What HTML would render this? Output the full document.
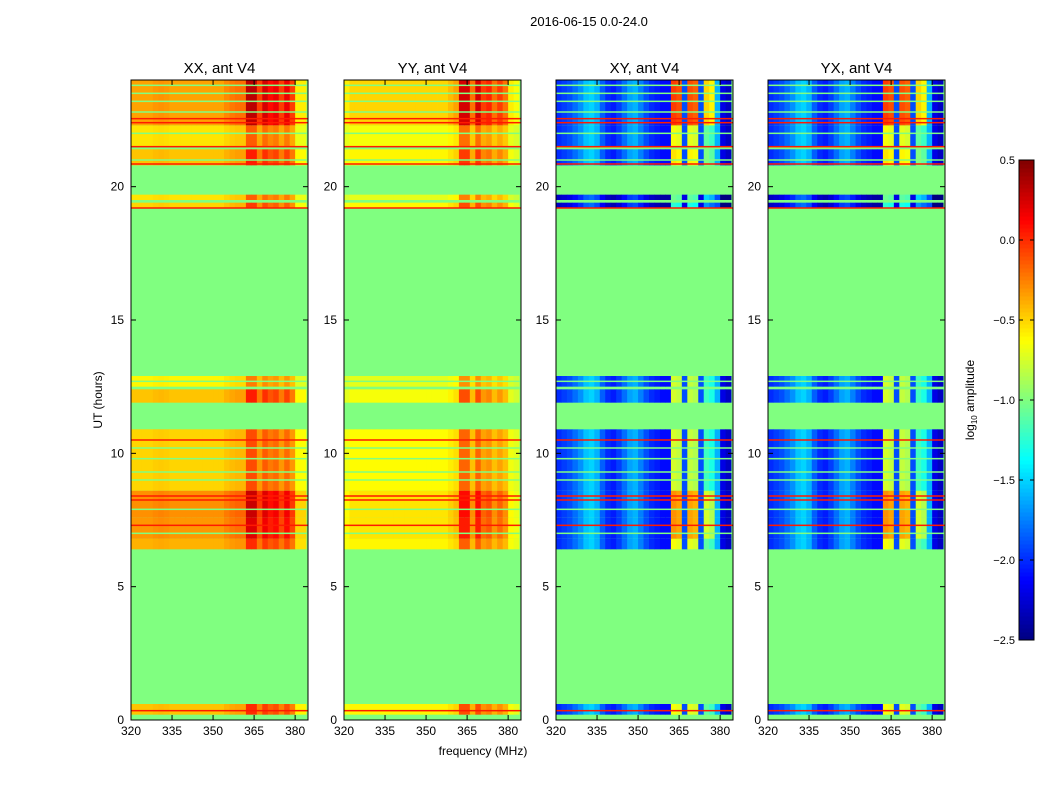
<!DOCTYPE html>
<html><head><meta charset="utf-8"><style>
body{margin:0;background:#fff;width:1050px;height:800px;overflow:hidden}
svg{display:block;font-family:"Liberation Sans","DejaVu Sans",sans-serif}
</style></head><body>
<svg id="chart" width="1050" height="800"></svg>
<script>
// ---- data ----
const panelTitles=["XX, ant V4","YY, ant V4","XY, ant V4","YX, ant V4"];
const freqCenters=[321,323,325,327,329,331,333,335,337,339,341,343,345,347,349,351,353,355,357,359,361,363,365,367,369,371,373,375,377,379,381,383];
const xxSpec=[0,0,0,0,0.02,0.03,0.02,0,0,0,0,0,0,0,0,0,0,0.05,0.08,0.1,0.1,0.45,0.45,0.2,0.4,0.3,0.35,0.2,0.35,0.2,-0.15,-0.15];
const yySpec=[-0.05,0,0,0,0,0,0,0,0,0,0,0,0,0,0,0,0,0,0,0.05,0.1,0.5,0.5,0.2,0.5,0.3,0.35,0.2,0.3,0.2,-0.05,-0.1];
const xySpec=[-2.0,-1.95,-1.9,-1.8,-1.7,-1.55,-1.5,-1.6,-1.85,-2.0,-2.05,-1.95,-1.8,-1.65,-1.6,-1.75,-1.9,-2.0,-2.05,-2.1,-2.1,-0.75,-0.8,-1.9,-0.8,-0.85,-1.9,-1.2,-1.3,-1.6,-2.2,-2.3];
const rowStart=[0.2,6.4,6.8,7.6,8.6,11.9,12.5,19.2,19.5,20.8,21.5,22.3];
const rowEnd=[0.6,6.8,7.6,8.6,10.9,12.4,12.9,19.4,19.7,21.4,22.3,24.0];
const xxRow=[-0.45,-0.4,-0.32,-0.3,-0.5,-0.45,-0.6,-0.5,-0.55,-0.45,-0.55,-0.35];
const yyRow=[-0.6,-0.6,-0.55,-0.55,-0.62,-0.65,-0.7,-0.6,-0.7,-0.6,-0.65,-0.5];
const rfiRow=[1.0,0.9,1.2,1.3,0.9,1.1,0.8,1.0,0.9,1.1,0.9,1.5];
const xyBoost=[0.1,0.1,0.45,0.45,0,0,0,-0.2,0,0.2,0.1,0.7];
const redLines=[0.35,7.3,8.25,8.4,10.5,19.2,20.85,21.5,22.4,22.55];
const greenLines=[7.0,7.9,9.0,9.3,9.8,10.2,12.45,12.7,21.0,22.0,22.8,23.2,23.5,23.8];
const yTicks=[0,5,10,15,20];
const xTicks=[320,335,350,365,380];
const cbTicks=[0.5,0.0,-0.5,-1.0,-1.5,-2.0,-2.5];
// ---- layout ----
const NS="http://www.w3.org/2000/svg";
const svg=document.getElementById('chart');
const panelX=[131,344,556,768], PW=177, PT=80, PB=720;
const fMin=320,fMax=384.7,tMin=0,tMax=24,vMin=-2.5,vMax=0.5;
function el(t,a,p){const e=document.createElementNS(NS,t);for(const k in a)e.setAttribute(k,a[k]);(p||svg).appendChild(e);return e;}
function jet(v){let x=(v-vMin)/(vMax-vMin);x=Math.max(0,Math.min(1,x));
 const c=t=>Math.max(0,Math.min(1,1.5-Math.abs(4*x-t)));
 return `rgb(${Math.round(255*c(3))},${Math.round(255*c(2))},${Math.round(255*c(1))})`;}
function sx(p,f){return panelX[p]+(f-fMin)/(fMax-fMin)*PW;}
function sy(t){return PB-(t-tMin)/(tMax-tMin)*(PB-PT);}
function txt(x,y,s,size,anchor,name,extra){const t=el('text',Object.assign({x:x,y:y,'font-size':size,'text-anchor':anchor||'middle',fill:'#000'},extra||{}));t.textContent=s;return t;}
txt(589,26,"2016-06-15 0.0-24.0",13,'middle','figure-title');
for(let p=0;p<4;p++){
 const g=el('g',{});
 
 
 el('rect',{x:panelX[p],y:PT,width:PW,height:PB-PT,fill:jet(-1.0)},g);
 const specArr=p===0?xxSpec:p===1?yySpec:xySpec;
 for(let r=0;r<rowStart.length;r++){
  for(let c=0;c<freqCenters.length;c++){
   let v;
   if(p<2){v=(p===0?xxRow[r]:yyRow[r])+specArr[c]*rfiRow[r];}
   else{v=specArr[c]+(specArr[c]>-1.5?xyBoost[r]:0)+(r===7||r===8?-0.3:0);}
   const x0=sx(p,freqCenters[c]-1),x1=Math.min(sx(p,freqCenters[c]+1),panelX[p]+PW);
   const cell=el('rect',{x:x0,y:sy(rowEnd[r]),width:x1-x0+0.4,height:sy(rowStart[r])-sy(rowEnd[r]),fill:jet(v)},g);
   
   
  }
 }
 greenLines.forEach(t=>{const l=el('rect',{x:panelX[p],y:sy(t)-0.75,width:PW,height:1.5,fill:jet(-1.0)},g);});
 redLines.forEach(t=>{const l=el('rect',{x:panelX[p],y:sy(t)-0.75,width:PW,height:1.5,fill:jet(0.05)},g);});
 el('rect',{x:panelX[p],y:PT,width:PW,height:PB-PT,fill:'none',stroke:'#000','stroke-width':1},g);
 yTicks.forEach(t=>{const y=sy(t);el('line',{x1:panelX[p],x2:panelX[p]+5,y1:y,y2:y,stroke:'#000'},g);el('line',{x1:panelX[p]+PW,x2:panelX[p]+PW-5,y1:y,y2:y,stroke:'#000'},g);
  txt(panelX[p]-7,y+4,String(t),12,'end','y-tick-label');});
 xTicks.forEach(f=>{const x=sx(p,f);el('line',{x1:x,x2:x,y1:PB,y2:PB-5,stroke:'#000'},g);el('line',{x1:x,x2:x,y1:PT,y2:PT+5,stroke:'#000'},g);
  txt(x,PB+15,String(f),12,'middle','x-tick-label');});
 txt(panelX[p]+PW/2,73,panelTitles[p],15,'middle','panel-title');
}
txt(102,400,"UT (hours)",12,'middle','y-axis-title',{transform:'rotate(-90 102 400)'});
txt(483,755,"frequency (MHz)",12,'middle','x-axis-title');
// colorbar
const cb=el('g',{});
const cbX=1019,cbW=15,cbT=160,cbB=640,N=120;
for(let i=0;i<N;i++){const v=vMin+(i+0.5)/N*(vMax-vMin);const y=cbB-(i+1)/N*(cbB-cbT);el('rect',{x:cbX,y:y,width:cbW,height:(cbB-cbT)/N+0.5,fill:jet(v)},cb);}
el('rect',{x:cbX,y:cbT,width:cbW,height:cbB-cbT,fill:'none',stroke:'#000'},cb);
cbTicks.forEach(v=>{const y=cbB-(v-vMin)/(vMax-vMin)*(cbB-cbT);
 el('line',{x1:cbX,x2:cbX+4,y1:y,y2:y,stroke:'#000'},cb);
 el('line',{x1:cbX+cbW-4,x2:cbX+cbW,y1:y,y2:y,stroke:'#000'},cb);
 const s=(v<0?"\u2212":"")+Math.abs(v).toFixed(1);txt(cbX-4,y+4,s,11,'end','colorbar-tick-label');});
const cl=el('text',{x:974,y:400,'font-size':12,'text-anchor':'middle',transform:'rotate(-90 974 400)'});

cl.innerHTML='log<tspan font-size="8" dy="3">10</tspan><tspan dy="-3"> amplitude</tspan>';
</script>
</body></html>
